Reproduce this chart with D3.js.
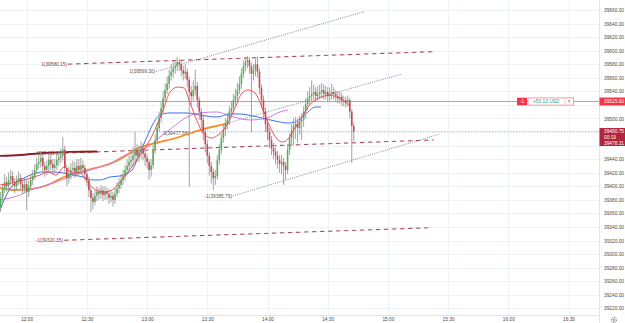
<!DOCTYPE html>
<html><head><meta charset="utf-8">
<script src="https://cdn.jsdelivr.net/npm/d3@7"></script>
<style>body{margin:0;background:#fff}svg{display:block}text{font-family:"Liberation Sans",Arial,sans-serif}</style>
</head><body><svg id="c" width="625" height="323"></svg>
<script>
// ---- data ----
const yTicks = [39220,39240,39260,39280,39300,39320,39340,39360,39380,39400,39420,39440,39460,39480,39500,39520,39540,39560,39580,39600,39620,39640,39660];
const timeTickMinutes = [0,30,60,90,120,150,180,210,240,270];
const timeTickLabels = ["12:00","12:30","13:00","13:30","14:00","14:30","15:00","15:30","16:00","16:30"];
const firstCandleMinute = -13; // 11:47, 1-minute candles
const opens = [39369,39383,39397,39406,39400,39409,39415,39406,39400,39409,
39412,39403,39397,39403,39392,39400,39409,39415,39424,39433,
39436,39442,39430,39424,39430,39439,39433,39427,39431,39439,
39442,39445,39454,39427,39412,39418,39424,39427,39421,39430,
39424,39431,39427,39418,39409,39394,39383,39377,39386,39392,
39389,39394,39387,39392,39389,39383,39386,39380,39389,39397,
39402,39409,39415,39424,39430,39436,39439,39445,39454,39445,
39451,39456,39448,39442,39436,39424,39431,39454,39468,39486,
39501,39515,39530,39542,39551,39563,39569,39574,39577,39583,
39580,39571,39566,39569,39557,39539,39533,39542,39548,39527,
39510,39498,39480,39462,39445,39430,39421,39412,39415,39439,
39454,39471,39483,39492,39498,39510,39515,39527,39533,39542,
39551,39566,39577,39583,39586,39577,39566,39571,39580,39569,
39545,39527,39510,39492,39480,39468,39456,39451,39445,39439,
39433,39436,39430,39424,39454,39471,39483,39489,39492,39486,
39495,39498,39510,39521,39530,39533,39536,39539,39533,39536,
39539,39542,39536,39539,39533,39536,39539,39536,39533,39530,
39532,39527,39527,39524,39527,39510,39489];
const closes = [39383,39397,39406,39400,39409,39415,39406,39400,39409,39412,
39403,39397,39403,39392,39400,39409,39415,39424,39433,39436,
39442,39430,39424,39430,39439,39433,39427,39431,39439,39442,
39445,39454,39427,39412,39418,39424,39427,39421,39430,39424,
39431,39427,39418,39409,39394,39383,39377,39386,39392,39389,
39394,39387,39392,39389,39383,39386,39380,39389,39397,39402,
39409,39415,39424,39430,39436,39439,39445,39454,39445,39451,
39456,39448,39442,39436,39424,39431,39454,39468,39486,39501,
39515,39530,39542,39551,39563,39569,39574,39577,39583,39580,
39571,39566,39569,39557,39539,39533,39542,39548,39527,39510,
39498,39480,39462,39445,39430,39421,39412,39415,39439,39454,
39471,39483,39492,39498,39510,39515,39527,39533,39542,39551,
39566,39577,39583,39586,39577,39566,39571,39580,39569,39545,
39527,39510,39492,39480,39468,39456,39451,39445,39439,39433,
39436,39430,39424,39454,39471,39483,39489,39492,39486,39495,
39498,39510,39521,39530,39533,39536,39539,39533,39536,39539,
39542,39536,39539,39533,39536,39539,39536,39533,39530,39532,
39527,39527,39524,39527,39510,39489,39480.75];
const highs = [39392,39404,39418,39414,39420,39424,39422,39412,39416,39422,
39418,39410,39412,39410,39408,39418,39424,39432,39442,39448,
39452,39448,39436,39438,39448,39446,39440,39440,39448,39452,
39456,39473,39460,39432,39428,39434,39438,39436,39440,39440,
39442,39438,39432,39424,39414,39400,39390,39394,39400,39398,
39402,39400,39400,39398,39396,39394,39392,39398,39406,39412,
39418,39424,39432,39440,39446,39450,39458,39480,39462,39460,
39466,39462,39454,39448,39440,39440,39462,39476,39494,39510,
39524,39540,39552,39562,39572,39580,39584,39586,39591,39588,
39586,39578,39580,39574,39562,39548,39556,39572,39554,39532,
39516,39504,39486,39468,39450,39436,39426,39424,39446,39462,
39478,39492,39500,39508,39518,39526,39536,39544,39552,39562,
39574,39586,39591,39592,39590,39582,39580,39588,39591,39574,
39550,39534,39516,39498,39486,39474,39464,39458,39452,39446,
39446,39442,39436,39462,39478,39492,39500,39502,39500,39504,
39508,39518,39530,39540,39546,39556,39550,39546,39548,39550,
39552,39550,39548,39546,39546,39551,39546,39542,39540,39540,
39538,39534,39532,39534,39530,39514,39494];
const lows = [39362,39376,39390,39392,39394,39402,39398,39390,39393,39402,
39396,39388,39390,39365,39384,39394,39402,39410,39418,39426,
39428,39422,39414,39416,39422,39424,39418,39420,39424,39430,
39434,39438,39418,39400,39404,39410,39416,39412,39414,39416,
39418,39418,39410,39400,39384,39362,39366,39372,39378,39380,
39382,39378,39380,39380,39374,39376,39370,39374,39384,39390,
39396,39402,39408,39416,39422,39428,39430,39436,39436,39436,
39440,39438,39430,39426,39410,39414,39426,39448,39462,39480,
39494,39508,39524,39536,39544,39556,39560,39566,39570,39570,
39562,39556,39558,39546,39399,39520,39526,39534,39516,39498,
39486,39468,39450,39434,39416,39404,39394,39402,39410,39432,
39448,39464,39474,39484,39490,39502,39508,39520,39526,39536,
39544,39560,39570,39574,39566,39480,39556,39562,39560,39536,
39516,39498,39480,39468,39456,39446,39440,39432,39426,39420,
39418,39402,39410,39418,39446,39462,39460,39470,39464,39476,
39468,39488,39500,39512,39520,39524,39528,39524,39526,39528,
39530,39528,39528,39524,39526,39528,39528,39524,39522,39522,
39518,39518,39516,39518,39500,39434,39466];
// moving averages: [minutes after 12:00, price]
const maRed = [[-13.3,39401.9],[-7.3,39404.8],[-1.3,39409.3],[6.6,39416.6],[10.6,39421.1],[14.6,39416.6],[18.6,39428.4],[22.6,39419.6],[26.6,39419.6],[29.5,39409.3],[34.5,39394.5],[38.5,39391.6],[42.5,39394.5],[46.5,39406.3],[50.5,39421.1],[56.5,39446.1],[61.4,39468.3],[64.9,39490.4],[68.0,39512.5],[71.4,39539.0],[75.4,39546.4],[78.4,39545.0],[81.4,39522.8],[84.9,39496.3],[87.8,39478.6],[92.3,39471.2],[95.3,39475.6],[99.8,39490.4],[103.8,39515.4],[107.3,39537.6],[110.3,39542.0],[113.8,39537.6],[117.2,39516.9],[120.2,39494.8],[123.7,39474.1],[127.2,39465.3],[130.2,39469.7],[133.7,39486.0],[137.2,39502.2],[140.2,39517.0],[143.7,39527.3],[147.1,39531.8],[151.1,39534.6],[154.1,39531.8],[157.1,39527.3],[161.1,39518.4]];
const maBlue = [[-13.3,39365.0],[-9.3,39391.6],[-5.3,39406.3],[-1.3,39412.2],[3.1,39418.1],[8.1,39421.1],[13.1,39421.1],[18.1,39419.6],[23.1,39416.6],[28.1,39413.7],[33.0,39409.3],[36.5,39409.3],[41.5,39413.7],[46.5,39415.2],[52.5,39424.0],[56.5,39450.6],[59.9,39472.6],[62.9,39491.9],[66.4,39505.1],[71.4,39508.1],[79.9,39508.1],[86.3,39505.1],[94.8,39502.2],[101.3,39506.6],[106.3,39506.6],[110.3,39505.1],[117.2,39500.7],[123.7,39496.3],[130.2,39493.3],[133.7,39494.8],[137.2,39502.2],[140.2,39509.6],[143.7,39516.9],[146.6,39516.9]];
const maPurple = [[-13.3,39379.8],[-8.3,39382.7],[-3.3,39387.1],[1.6,39394.5],[6.6,39398.9],[13.1,39404.8],[20.1,39412.2],[26.6,39419.6],[31.5,39424.0],[36.5,39428.4],[43.0,39435.8],[49.0,39446.1],[54.5,39450.6],[60.4,39457.9],[66.4,39472.7],[72.9,39487.4],[79.9,39502.2],[86.3,39508.1],[94.8,39509.6],[101.3,39503.7],[111.3,39497.8],[119.7,39500.7],[126.2,39509.6],[130.2,39512.5]];
const maOrange = [[-13.3,39397.5],[-5.3,39394.5],[2.6,39396.0],[10.6,39401.9],[18.6,39413.7],[26.6,39421.1],[34.5,39427.0],[42.5,39434.3],[48.5,39443.2],[54.5,39455.0],[60.4,39460.9],[66.4,39465.3],[74.4,39471.2],[86.3,39483.0],[99.3,39491.9]];
const maMaroon = [[-13.3,39444.7],[-3.3,39446.1],[8.1,39449.1],[21.6,39450.6],[35.1,39451.3]];
// drawn levels: [[t0,p0],[t1,p1]], label
const dashedLevels = [
  {label:"1(39580.15)", pts:[[20.6,39580.15],[202.9,39598.5]]},
  {label:"0(39450.24)", pts:[[18.6,39449.0],[202.9,39468.3]]},
  {label:"-1(39320.35)", pts:[[18.6,39320.35],[201.9,39338.9]]}
];
const dottedLevels = [
  {label:"1(39569.30)", pts:[[64.5,39569.30],[168.1,39657.5]]},
  {label:"0(39477.58)", pts:[[81.4,39477.58],[187.0,39565.6]]},
  {label:"-1(39385.79)", pts:[[102.8,39385.79],[205.9,39477.1]]}
];
const positionPrice = 39525.00, positionQty = "-1", positionPnl = "+50.13 USD";
const lastPrice = 39480.75, countdown = "00:19", secondPrice = 39478.31;

// ---- scales ----
const W = 625, H = 323, plotR = 599, plotB = 315;
const x = d3.scaleLinear().domain([0, 270]).range([26.7, 568.5]);
const y = d3.scaleLinear().domain([39220, 39660]).range([308.3, 10]);
const svg = d3.select("#c");
svg.append("rect").attr("width",W).attr("height",H).attr("fill","#fff");

// grid
const grid = svg.append("g");
grid.selectAll(".hg").data(yTicks).join("line")
  .attr("x1",0).attr("x2",plotR).attr("y1",d=>Math.round(y(d))+0.5).attr("y2",d=>Math.round(y(d))+0.5)
  .attr("stroke","#eff2f8").attr("stroke-width",1);
grid.selectAll(".vg").data(timeTickMinutes).join("line")
  .attr("y1",0).attr("y2",plotB).attr("x1",d=>Math.round(x(d))+0.5).attr("x2",d=>Math.round(x(d))+0.5)
  .attr("stroke","#eff2f8").attr("stroke-width",1);

const plot = svg.append("g");
plot.append("clipPath").attr("id","cp").append("rect").attr("width",plotR).attr("height",plotB);
const pg = plot.append("g").attr("clip-path","url(#cp)");

// horizontal price lines
pg.append("line").attr("x1",0).attr("x2",plotR).attr("y1",y(positionPrice)).attr("y2",y(positionPrice))
  .attr("stroke","#f38891").attr("stroke-width",1);
pg.append("line").attr("x1",0).attr("x2",plotR).attr("y1",y(lastPrice)).attr("y2",y(lastPrice))
  .attr("stroke","#eea7ae").attr("stroke-width",0.9).attr("stroke-dasharray","1.5,1.5");

// dashed levels
const labelFont = 4.8;
dashedLevels.forEach(l=>{
  pg.append("line").attr("x1",x(l.pts[0][0])).attr("y1",y(l.pts[0][1])).attr("x2",x(l.pts[1][0])).attr("y2",y(l.pts[1][1]))
    .attr("stroke","#a1404a").attr("stroke-opacity",0.9).attr("stroke-width",1.1).attr("stroke-dasharray","4.5,3.5");
  pg.append("text").attr("x",x(l.pts[0][0])-1).attr("y",y(l.pts[0][1])).attr("dy","0.35em")
    .attr("text-anchor","end").attr("font-size",labelFont).attr("fill","#8e3a44").text(l.label);
});
dottedLevels.forEach(l=>{
  pg.append("line").attr("x1",x(l.pts[0][0])).attr("y1",y(l.pts[0][1])).attr("x2",x(l.pts[1][0])).attr("y2",y(l.pts[1][1]))
    .attr("stroke","#6f6f6f").attr("stroke-width",0.8).attr("stroke-dasharray","1,1.2");
  pg.append("text").attr("x",x(l.pts[0][0])-1).attr("y",y(l.pts[0][1])).attr("dy","0.35em")
    .attr("text-anchor","end").attr("font-size",labelFont).attr("fill","#555").text(l.label);
});

// moving averages
const line = d3.line().x(d=>x(d[0])).y(d=>y(d[1])).curve(d3.curveMonotoneX);
pg.append("path").datum(maOrange).attr("d",line).attr("fill","none").attr("stroke","#ff8a1e").attr("stroke-width",1.8);
pg.append("path").datum(maMaroon).attr("d",line).attr("fill","none").attr("stroke","#8b1f27").attr("stroke-width",1.8);
pg.append("path").datum(maPurple).attr("d",line).attr("fill","none").attr("stroke","#cc7df0").attr("stroke-width",1);
pg.append("path").datum(maBlue).attr("d",line).attr("fill","none").attr("stroke","#3f6fe8").attr("stroke-width",1);

// candles
const candles = closes.map((c,i)=>({t:firstCandleMinute+i,o:opens[i],h:highs[i],l:lows[i],c}));
const cg = pg.append("g");
cg.selectAll(".w").data(candles).join("line")
  .attr("x1",d=>x(d.t)).attr("x2",d=>x(d.t)).attr("y1",d=>y(d.h)).attr("y2",d=>y(d.l))
  .attr("stroke","#999").attr("stroke-width",0.9);
cg.selectAll(".b").data(candles).join("rect")
  .attr("x",d=>x(d.t)-0.8).attr("width",1.6)
  .attr("y",d=>y(Math.max(d.o,d.c))).attr("height",d=>Math.max(0.8,Math.abs(y(d.o)-y(d.c))))
  .attr("fill",d=>d.c>=d.o?"#4caf50":"#c93e4b").attr("fill-opacity",0.92);

pg.append("path").datum(maRed).attr("d",line).attr("fill","none").attr("stroke","#f0404f").attr("stroke-width",0.9);

// axes
svg.append("line").attr("x1",plotR+0.5).attr("x2",plotR+0.5).attr("y1",0).attr("y2",H).attr("stroke","#e0e3eb");
svg.append("line").attr("x1",0).attr("x2",plotR).attr("y1",plotB+0.5).attr("y2",plotB+0.5).attr("stroke","#e0e3eb");
const ly = y(lastPrice), py = y(positionPrice);
// tick labels hidden behind the price tags
const visibleYTicks = yTicks.filter(v => !(Math.abs(y(v)-py) < 6.5) && !(y(v) > ly-7 && y(v) < ly+19));
const yAxis = d3.axisRight(y).tickValues(visibleYTicks).tickFormat(d=>d3.format(".2f")(d)).tickSize(0).tickPadding(0);
const ya = svg.append("g").attr("transform",`translate(${plotR+5},0)`).call(yAxis);
ya.select(".domain").remove();
ya.selectAll("text").attr("font-size",4.8).attr("fill","#4a4a4a").attr("font-family","Liberation Sans, Arial, sans-serif");
const xAxis = d3.axisBottom(x).tickValues(timeTickMinutes).tickFormat((d,i)=>timeTickLabels[i]).tickSize(0).tickPadding(0);
const xa = svg.append("g").attr("transform",`translate(0,${plotB+3})`).call(xAxis);
xa.select(".domain").remove();
xa.selectAll("text").attr("font-size",4.8).attr("fill","#4a4a4a").attr("font-family","Liberation Sans, Arial, sans-serif");

// position marker
svg.append("rect").attr("x",517).attr("y",py-3.8).attr("width",10).attr("height",7.6).attr("fill","#f23645");
svg.append("text").attr("x",522).attr("y",py).attr("dy","0.35em").attr("text-anchor","middle").attr("font-size",4.8).attr("fill","#fff").text(positionQty);
svg.append("rect").attr("x",528).attr("y",py-3.6).attr("width",45.5).attr("height",7.2).attr("fill","#fff").attr("stroke","#f6707b").attr("stroke-width",0.7);
svg.append("text").attr("x",533).attr("y",py).attr("dy","0.35em").attr("font-size",4.8).attr("fill","#22ab94").text(positionPnl);
svg.append("line").attr("x1",565).attr("x2",565).attr("y1",py-3.6).attr("y2",py+3.6).attr("stroke","#f6a0a7").attr("stroke-width",0.5);
svg.append("text").attr("x",569).attr("y",py).attr("dy","0.35em").attr("text-anchor","middle").attr("font-size",5.5).attr("fill","#f23645").text("×");

// axis price tags
svg.append("rect").attr("x",plotR+0.5).attr("y",py-4).attr("width",W-plotR).attr("height",8).attr("fill","#f23645");
svg.append("text").attr("x",604).attr("y",py).attr("dy","0.35em").attr("font-size",4.8).attr("fill","#fff").text(d3.format(".2f")(positionPrice));
svg.append("rect").attr("x",plotR+0.5).attr("y",ly-3.5).attr("width",W-plotR).attr("height",18).attr("fill","#b2253a");
svg.append("text").attr("x",604).attr("y",ly).attr("dy","0.35em").attr("font-size",4.8).attr("fill","#fff").text(d3.format(".2f")(lastPrice));
svg.append("text").attr("x",604).attr("y",ly+5.5).attr("dy","0.35em").attr("font-size",4.8).attr("fill","#fff").text(countdown);
svg.append("text").attr("x",604).attr("y",ly+11.5).attr("dy","0.35em").attr("font-size",4.8).attr("fill","#fff").text(d3.format(".2f")(secondPrice));

// settings gear
const gear = svg.append("g").attr("transform","translate(614,320)");
gear.append("circle").attr("r",2.6).attr("fill","none").attr("stroke","#555").attr("stroke-width",0.8).attr("stroke-dasharray","1.2,0.8");
gear.append("circle").attr("r",1).attr("fill","none").attr("stroke","#555").attr("stroke-width",0.6);
</script></body></html>
